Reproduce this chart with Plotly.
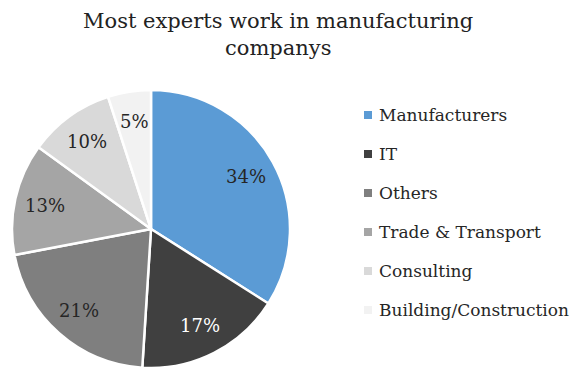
import math
import plotly.graph_objects as go

# Share of experts by industry (percent)
categories = ["Manufacturers", "IT", "Others", "Trade & Transport", "Consulting", "Building/Construction"]
shares = [34, 17, 21, 13, 10, 5]
colors = ["#5B9BD5", "#404040", "#7F7F7F", "#A5A5A5", "#D9D9D9", "#F2F2F2"]
text_colors = ["#262626", "#FFFFFF", "#262626", "#262626", "#262626", "#262626"]
title_lines = ["Most experts work in manufacturing", "companys"]

W, H = 581, 372
serif = "DejaVu Serif"

# Pie geometry (pixels from top-left)
cx, cy, r = 151, 229, 139
label_frac = 0.78

fig = go.Figure()
fig.add_trace(go.Pie(
    labels=categories,
    values=shares,
    sort=False,
    direction="clockwise",
    rotation=0,
    marker=dict(colors=colors, line=dict(color="#FFFFFF", width=2.5)),
    textinfo="none",
    showlegend=False,
    hoverinfo="label+percent",
    domain=dict(x=[(cx - r) / W, (cx + r) / W], y=[(H - cy - r) / H, (H - cy + r) / H]),
))

# Percentage labels placed along each slice's bisector
total = sum(shares)
cum = 0
for val, tc in zip(shares, text_colors):
    mid = (cum + val / 2) / total * 2 * math.pi
    cum += val
    px = cx + label_frac * r * math.sin(mid)
    py = cy - label_frac * r * math.cos(mid)
    fig.add_annotation(x=px / W, y=(H - py) / H, xref="paper", yref="paper",
                       text=f"{val}%", showarrow=False, xanchor="center", yanchor="middle",
                       font=dict(family=serif, size=18, color=tc))

# Legend drawn as square markers with labels
legend_top = 115
legend_step = 39
for i, (name, col) in enumerate(zip(categories, colors)):
    yc = legend_top + i * legend_step
    fig.add_shape(type="rect", xref="paper", yref="paper",
                  x0=364 / W, x1=372 / W, y0=(H - yc - 4) / H, y1=(H - yc + 4) / H,
                  fillcolor=col, line=dict(width=0))
    fig.add_annotation(x=377 / W, y=(H - yc) / H, xref="paper", yref="paper",
                       text=name, showarrow=False, xanchor="left", yanchor="middle",
                       font=dict(family=serif, size=17, color="#262626"))

# Two-line chart title
title_y = [21, 48]
for line, ty in zip(title_lines, title_y):
    fig.add_annotation(x=278 / W, y=(H - ty) / H, xref="paper", yref="paper",
                       text=line, showarrow=False, xanchor="center", yanchor="middle",
                       font=dict(family=serif, size=21, color="#222222"))

fig.update_layout(
    width=W, height=H,
    margin=dict(l=0, r=0, t=0, b=0),
    paper_bgcolor="#FFFFFF",
    plot_bgcolor="#FFFFFF",
    font=dict(family=serif),
)

fig.write_html("out.html")
